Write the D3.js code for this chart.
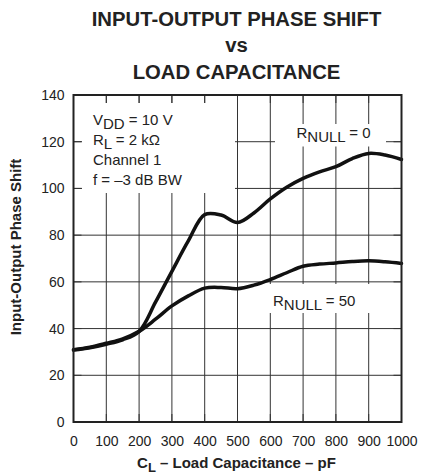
<!DOCTYPE html>
<html>
<head>
<meta charset="utf-8">
<script src="https://cdn.jsdelivr.net/npm/d3@7"></script>
<style>
  body { margin: 0; background: #fff; }
  svg { font-family: "Liberation Sans", Arial, sans-serif; }
  .grid line { stroke: #333; stroke-width: 1; }
  .tick-lbl { font-size: 14px; fill: #222; }
</style>
</head>
<body>
<svg width="427" height="474"></svg>
<script>
// load capacitance, pF
const capacitance = [0, 50, 100, 150, 200, 250, 300, 350, 400, 450, 500,
  550, 600, 650, 700, 750, 800, 850, 900, 950, 1000];
// phase shift, degrees
const phaseRnull0 = [30.8, 31.8, 33.3, 35.2, 38.8, 51.3, 64.5, 77.5, 88.8, 88.6, 85.4,
  89.5, 95.5, 100.5, 104.3, 107.1, 109.3, 112.8, 115, 114.3, 112.4];
const phaseRnull50 = [30.9, 32, 33.7, 35.6, 38.8, 44, 49.7, 54, 57.3, 57.6, 57.1,
  58.6, 61, 63.9, 66.7, 67.6, 68.1, 68.7, 69, 68.6, 67.9];
const xTicks = [0, 100, 200, 300, 400, 500, 600, 700, 800, 900, 1000];
const yTicks = [0, 20, 40, 60, 80, 100, 120, 140];

const svg = d3.select("svg");

const x = d3.scaleLinear([0, 1000], [73.5, 401.5]);
const y = d3.scaleLinear([0, 140], [422, 95]);

// grid
const grid = svg.append("g").attr("class", "grid");
grid.selectAll(".v").data(xTicks).enter().append("line")
  .attr("x1", d => x(d)).attr("x2", d => x(d))
  .attr("y1", y(0)).attr("y2", y(140));
grid.selectAll(".h").data(yTicks).enter().append("line")
  .attr("x1", x(0)).attr("x2", x(1000))
  .attr("y1", d => y(d)).attr("y2", d => y(d));

// white boxes behind the notes
const boxes = [
  { x0: 82, y0: 103, x1: 235, y1: 193 },
  { x0: 275, y0: 124, x1: 386, y1: 146.5 },
  { x0: 265, y0: 284, x1: 378, y1: 313 }
];
svg.selectAll(".box").data(boxes).enter().append("rect")
  .attr("x", d => d.x0).attr("y", d => d.y0)
  .attr("width", d => d.x1 - d.x0).attr("height", d => d.y1 - d.y0)
  .attr("fill", "#fff");

// inner ticks
const tk = svg.append("g").attr("class", "grid");
xTicks.forEach(t => {
  tk.append("line").attr("x1", x(t)).attr("x2", x(t)).attr("y1", y(140)).attr("y2", y(140) + 8);
  tk.append("line").attr("x1", x(t)).attr("x2", x(t)).attr("y1", y(0)).attr("y2", y(0) - 8);
});
yTicks.forEach(t => {
  tk.append("line").attr("x1", x(0)).attr("x2", x(0) + 8).attr("y1", y(t)).attr("y2", y(t));
  tk.append("line").attr("x1", x(1000)).attr("x2", x(1000) - 8).attr("y1", y(t)).attr("y2", y(t));
});

// curves
const line = d3.line()
  .x(d => x(d[0]))
  .y(d => y(d[1]))
  .curve(d3.curveCatmullRom.alpha(0.5));

[phaseRnull50, phaseRnull0].forEach(series => {
  svg.append("path")
    .datum(capacitance.map((c, i) => [c, series[i]]))
    .attr("d", line)
    .attr("fill", "none")
    .attr("stroke", "#111")
    .attr("stroke-width", 3.5)
    .attr("stroke-linejoin", "round")
    .attr("stroke-linecap", "round");
});

// frame
svg.append("rect")
  .attr("x", x(0)).attr("y", y(140))
  .attr("width", x(1000) - x(0)).attr("height", y(0) - y(140))
  .attr("fill", "none").attr("stroke", "#222").attr("stroke-width", 2);

// axes (labels only)
svg.append("g")
  .attr("transform", `translate(0,${y(0)})`)
  .call(d3.axisBottom(x).tickValues(xTicks).tickFormat(d3.format("d")).tickSize(0).tickPadding(14.5))
  .call(g => g.select(".domain").remove())
  .selectAll("text").attr("class", "tick-lbl").attr("font-family", null).attr("font-size", null);

svg.append("g")
  .attr("transform", `translate(${x(0)},0)`)
  .call(d3.axisLeft(y).tickValues(yTicks).tickSize(0).tickPadding(9))
  .call(g => g.select(".domain").remove())
  .selectAll("text").attr("class", "tick-lbl").attr("font-family", null).attr("font-size", null);

// title
const title = ["INPUT-OUTPUT PHASE SHIFT", "vs", "LOAD CAPACITANCE"];
svg.selectAll(".title").data(title).enter().append("text")
  .attr("x", 236.5)
  .attr("y", (d, i) => 25.5 + i * 26.8)
  .attr("text-anchor", "middle")
  .attr("font-size", 20.3)
  .attr("font-weight", "bold")
  .attr("fill", "#222")
  .text(d => d);

// axis titles
const xl = svg.append("text")
  .attr("x", 236.5).attr("y", 468)
  .attr("text-anchor", "middle")
  .attr("font-size", 15).attr("font-weight", "bold").attr("fill", "#222");
xl.append("tspan").text("C");
xl.append("tspan").attr("dy", 4).attr("font-size", 13).text("L");
xl.append("tspan").attr("dy", -4).text(" – Load Capacitance – pF");

svg.append("text")
  .attr("transform", "translate(21,247) rotate(-90)")
  .attr("text-anchor", "middle")
  .attr("font-size", 15).attr("font-weight", "bold").attr("fill", "#222")
  .text("Input-Output Phase Shift");

// notes
function sub(sel, main, s, rest) {
  sel.append("tspan").text(main);
  sel.append("tspan").attr("dy", 4).text(s);
  sel.append("tspan").attr("dy", -4).text(rest);
}
const notes = svg.append("g").attr("font-size", 15).attr("fill", "#222");
sub(notes.append("text").attr("x", 93).attr("y", 124.5), "V", "DD", " = 10 V");
sub(notes.append("text").attr("x", 93).attr("y", 144.5), "R", "L", " = 2 kΩ");
notes.append("text").attr("x", 93).attr("y", 165).text("Channel 1");
notes.append("text").attr("x", 93).attr("y", 185).text("f = –3 dB BW");
sub(notes.append("text").attr("x", 296.5).attr("y", 137.5), "R", "NULL", " = 0");
sub(notes.append("text").attr("x", 273).attr("y", 306), "R", "NULL", " = 50");
</script>
</body>
</html>
